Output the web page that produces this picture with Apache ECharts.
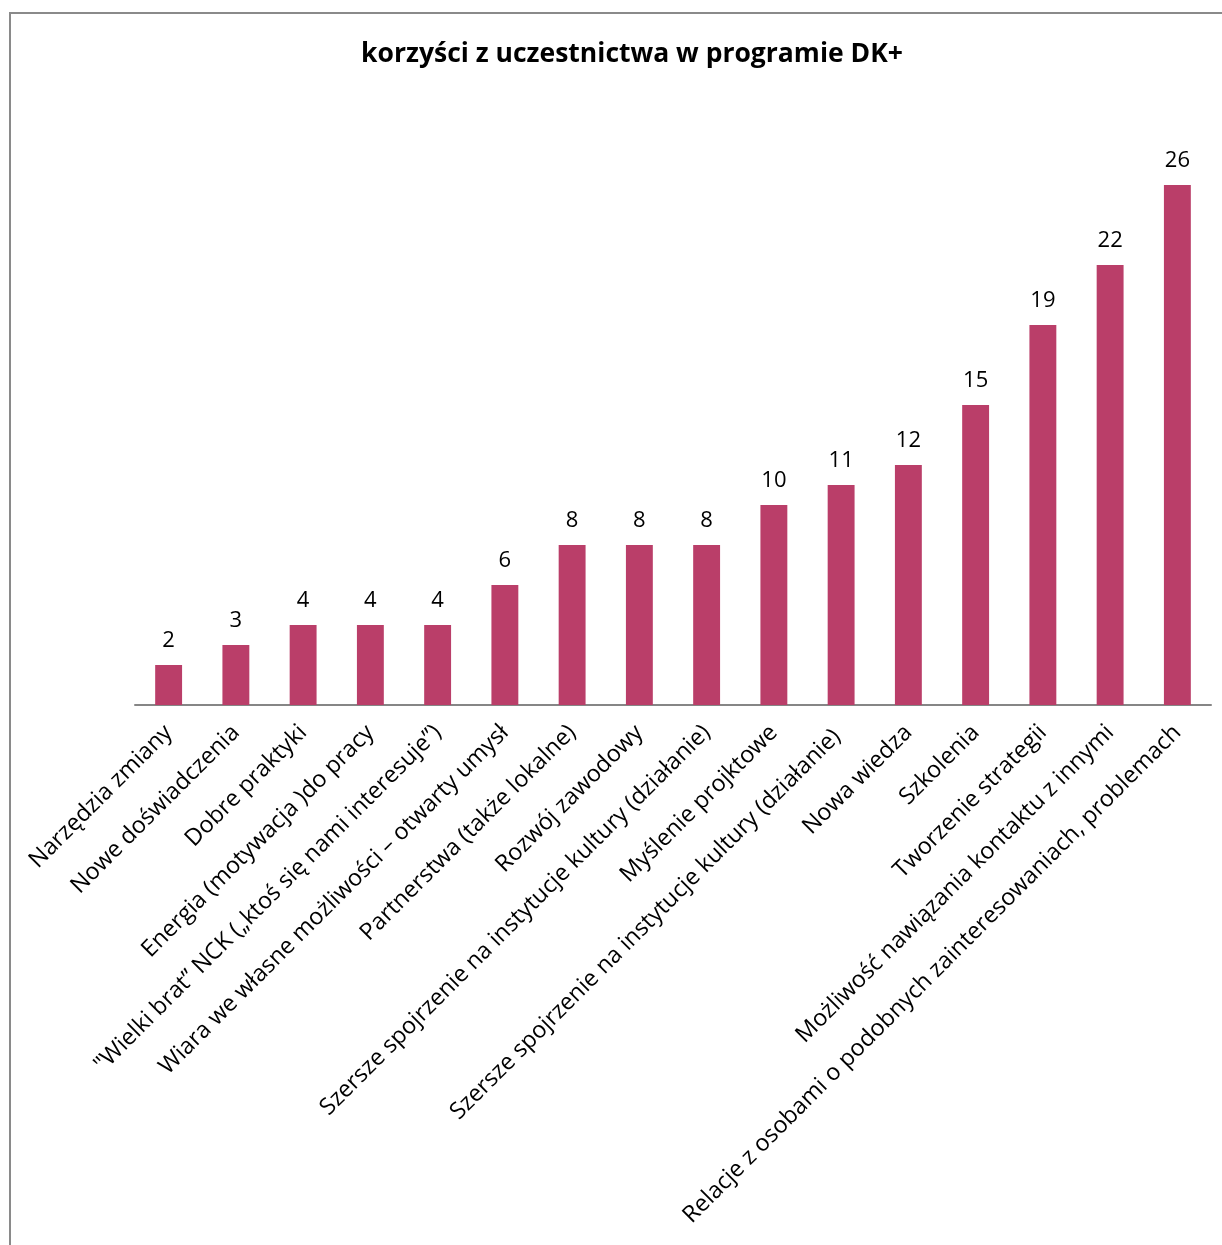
<!DOCTYPE html>
<html>
<head>
<meta charset="utf-8">
<script src="https://cdn.jsdelivr.net/npm/echarts@6/dist/echarts.min.js"></script>
<style>
html,body{margin:0;padding:0;background:#fff;}
#chart{width:1222px;height:1245px;}
</style>
</head>
<body>
<div id="chart"></div>
<script>
var titleText = 'korzyści z uczestnictwa w programie DK+';
var categories = [
  'Narzędzia zmiany',
  'Nowe doświadczenia',
  'Dobre praktyki',
  'Energia (motywacja )do pracy',
  '"Wielki brat” NCK („ktoś się nami interesuje”)',
  'Wiara we własne możliwości – otwarty umysł',
  'Partnerstwa (także lokalne)',
  'Rozwój zawodowy',
  'Szersze spojrzenie na instytucje kultury (działanie)',
  'Myślenie projktowe',
  'Szersze spojrzenie na instytucje kultury (działanie) ',
  'Nowa wiedza',
  'Szkolenia',
  'Tworzenie strategii',
  'Możliwość nawiązania kontaktu z innymi',
  'Relacje z osobami o podobnych zainteresowaniach, problemach'
];
var values = [2, 3, 4, 4, 4, 6, 8, 8, 8, 10, 11, 12, 15, 19, 22, 26];

var chart = echarts.init(document.getElementById('chart'));
chart.setOption({
  animation: false,
  backgroundColor: '#ffffff',
  title: {
    text: titleText,
    left: 627,
    textAlign: 'center',
    top: 36,
    textStyle: { fontFamily: 'Open Sans', fontWeight: 'bold', fontSize: 26.5, color: '#000' }
  },
  graphic: [{
    type: 'rect',
    shape: { x: 10, y: 13, width: 1400, height: 1400 },
    style: { fill: 'none', stroke: '#8a8a8a', lineWidth: 2 },
    silent: true
  }],
  grid: { left: 135, right: 11, top: 105, bottom: 540, containLabel: false },
  xAxis: {
    type: 'category',
    data: categories,
    axisLine: { show: true, lineStyle: { color: '#868686', width: 2 } },
    axisTick: { show: false },
    axisLabel: {
      interval: 0,
      rotate: 45,
      margin: 24,
      fontFamily: 'Open Sans',
      fontSize: 23.3,
      color: '#000'
    }
  },
  yAxis: {
    type: 'value',
    min: 0,
    max: 30,
    show: false,
    splitLine: { show: false }
  },
  series: [{
    type: 'bar',
    data: values,
    barWidth: '40%',
    itemStyle: { color: '#BA3E69' },
    label: {
      show: true,
      position: 'top',
      distance: 13,
      fontFamily: 'Open Sans',
      fontSize: 22,
      color: '#000'
    }
  }]
});
</script>
</body>
</html>
